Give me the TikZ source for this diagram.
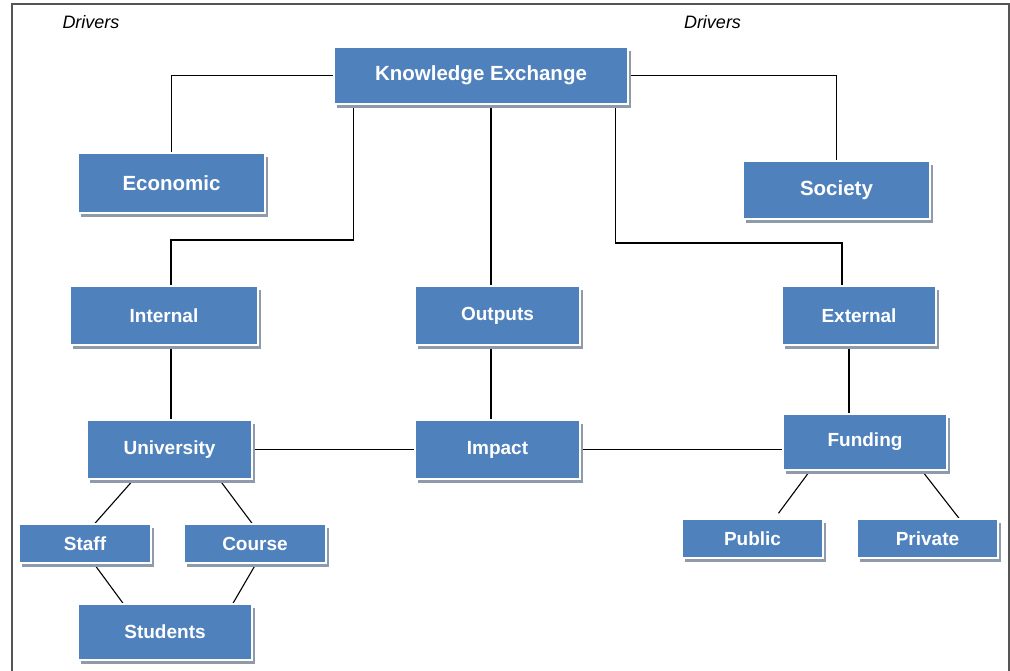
\documentclass[tikz,border=0pt]{standalone}
\usepackage{fontspec}
\setmainfont{Liberation Sans}
\usetikzlibrary{shadows,backgrounds}
\definecolor{boxblue}{HTML}{4F81BD}
\definecolor{shadowgray}{HTML}{8F9BAA}
\definecolor{framegray}{HTML}{555555}
\tikzset{
  kbox/.style={rectangle, fill=boxblue, draw=white, line width=1.5pt, inner sep=0pt,
    text=white, font=\fontsize{19}{22}\selectfont\bfseries,
    drop shadow={shadow xshift=3pt, shadow yshift=-4pt, fill=shadowgray, opacity=1}},
  bigbox/.style={kbox, font=\fontsize{20.5}{24}\selectfont\bfseries},
  conn/.style={draw=black, line width=1.1pt},
  drv/.style={font=\fontsize{18}{21}\selectfont\itshape, inner sep=0pt}
}
\begin{document}
\begin{tikzpicture}[x=1pt,y=-1pt]
\useasboundingbox (0,0) rectangle (1010,670);
\draw[framegray, line width=1.2pt] (12,672) -- (12,4) -- (1009,4) -- (1009,672);
\node[drv] (d1) at (91,22) {Drivers};
\node[drv] (d2) at (712.5,22) {Drivers};

\node[bigbox, minimum width=294pt, minimum height=57pt] (KE) at (481,75.5) {Knowledge Exchange};
\node[bigbox, minimum width=187pt, minimum height=60pt] (Econ) at (171.5,183) {Economic};
\node[bigbox, minimum width=187pt, minimum height=58pt] (Soc) at (836.5,190) {Society};
\node[kbox, minimum width=188pt, minimum height=59pt] (Int) at (164,315.5) {Internal};
\node[kbox, minimum width=165pt, minimum height=59pt] (Out) at (497.5,315.5) {Outputs};
\node[kbox, minimum width=154pt, minimum height=59pt] (Ext) at (859,315.5) {External};
\node[kbox, minimum width=165pt, minimum height=59pt] (Uni) at (169.5,449.5) {University};
\node[kbox, minimum width=165pt, minimum height=59pt] (Imp) at (497.5,449.5) {Impact};
\node[kbox, minimum width=164pt, minimum height=56pt] (Fund) at (865,442) {Funding};
\node[kbox, minimum width=132pt, minimum height=39pt] (Staff) at (85,543.5) {Staff};
\node[kbox, minimum width=142pt, minimum height=39pt] (Course) at (255,543.5) {Course};
\node[kbox, minimum width=174pt, minimum height=56pt] (Stu) at (165,632) {Students};
\node[kbox, minimum width=141pt, minimum height=39pt] (Pub) at (752.5,538.5) {Public};
\node[kbox, minimum width=141pt, minimum height=39pt] (Priv) at (927.5,538.5) {Private};

\coordinate (k1) at ([xshift=20pt]KE.south west);
\coordinate (k2) at ([xshift=10pt]KE.south);
\coordinate (k3) at ([xshift=-13pt]KE.south east);
\coordinate (i1) at ([xshift=7pt]Int.north);
\coordinate (i2) at ([xshift=7pt]Int.south);
\coordinate (o2) at ([xshift=-6.5pt]Out.south);
\coordinate (e1) at ([xshift=-17pt]Ext.north);
\coordinate (e2) at ([xshift=-10pt]Ext.south);

\begin{pgfonlayer}{background}
\draw[conn] (KE.west) -| (Econ.north);
\draw[conn] (KE.east) -| (Soc.north);
\draw[conn] (k1) -- (k1 |- 0,240) -| (i1);
\draw[conn] (k2) -- (k2 |- Out.north);
\draw[conn] (k3) -- (k3 |- 0,243) -| (e1);
\draw[conn] (i2) -- (i2 |- Uni.north);
\draw[conn] (o2) -- (o2 |- Imp.north);
\draw[conn] (e2) -- (e2 |- Fund.north);
\draw[conn] (Uni.east) -- (Imp.west);
\draw[conn] (Imp.east) -- (Imp.east -| Fund.west);
\draw[conn] ([xshift=-36pt]Uni.south) -- ([xshift=10pt]Staff.north);
\draw[conn] ([xshift=50pt]Uni.south) -- ([xshift=-3pt]Course.north);
\draw[conn] ([xshift=9pt]Staff.south) -- ([xshift=-42pt]Stu.north);
\draw[conn] ([xshift=1pt]Course.south) -- ([xshift=68pt]Stu.north);
\draw[conn] ([xshift=-55pt]Fund.south) -- ([xshift=26pt,yshift=5pt]Pub.north);
\draw[conn] ([xshift=57pt]Fund.south) -- ([xshift=31.5pt]Priv.north);
\end{pgfonlayer}
\end{tikzpicture}
\end{document}
